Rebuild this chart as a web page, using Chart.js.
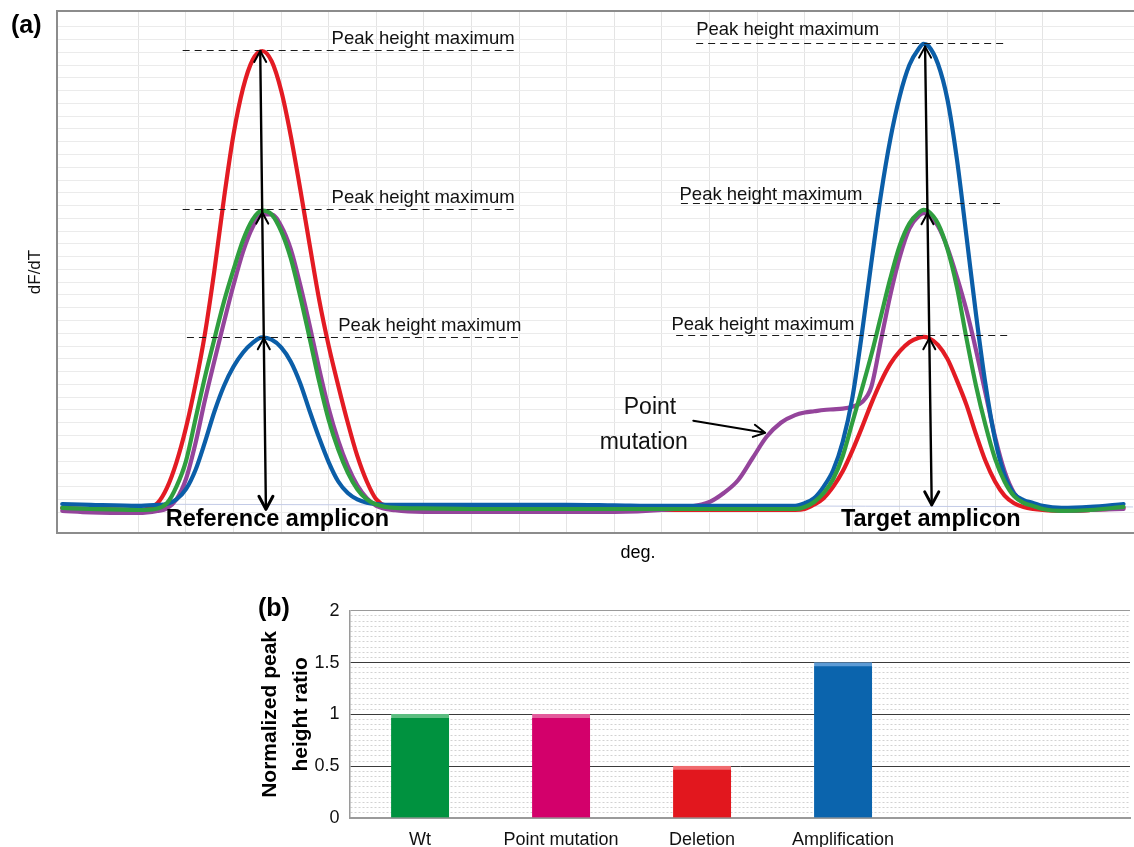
<!DOCTYPE html>
<html>
<head>
<meta charset="utf-8">
<title>Curvas de fusión y cociente de picos</title>
<script src="https://cdn.jsdelivr.net/npm/chart.js@4.4.1/dist/chart.umd.min.js"></script>
<style>
  html, body { margin: 0; padding: 0; background: #fff; }
  #lienzo { position: relative; width: 1134px; height: 847px; overflow: hidden; }
  #curvas { position: absolute; left: 0; top: 0; }
  #barras { position: absolute; left: 0; top: 590px; }
</style>
</head>
<body>
<div id="lienzo">
  <canvas id="curvas" width="1134" height="575"></canvas>
  <canvas id="barras" width="1134" height="257"></canvas>
</div>
<script>
// ──────────────────────────────────────────────
//  Datos (a): curvas dF/dT frente a temperatura
// ──────────────────────────────────────────────

const temperaturas = [
  69.4, 70.0, 71.0, 71.4, 71.6, 71.8, 72.0, 72.2, 72.4, 72.6,
  72.8, 73.0, 73.2, 73.4, 73.6, 73.8, 74.0, 74.2, 74.4, 74.6,
  74.8, 75.0, 75.2, 75.4, 75.6, 75.8, 76.0, 76.4, 77.0, 78.0,
  79.0, 80.0, 81.0, 82.0, 82.5, 83.0, 83.3, 83.6, 83.9, 84.2,
  84.5, 84.8, 85.0, 85.2, 85.4, 85.6, 85.8, 86.0, 86.2, 86.4,
  86.6, 86.8, 87.0, 87.2, 87.4, 87.5, 87.6, 87.8, 88.0, 88.2,
  88.4, 88.6, 88.8, 89.0, 89.2, 89.4, 89.6, 89.8, 90.0, 90.4,
  91.0, 91.7,
];

// Wt (verde)
const curvaWt = [
  1.33, 1.25, 1.17, 1.29, 1.7, 3.0, 5.0, 8.3, 11.6, 14.6,
  17.5, 20.0, 22.3, 23.9, 24.6, 24.3, 23.0, 20.9, 17.9, 14.6,
  11.2, 8.2, 5.9, 4.1, 2.8, 2.0, 1.6, 1.33, 1.29, 1.25,
  1.25, 1.25, 1.25, 1.25, 1.25, 1.25, 1.25, 1.25, 1.25, 1.25,
  1.25, 1.25, 1.41, 1.8, 2.5, 3.6, 5.4, 8.0, 10.6, 13.3,
  16.3, 19.3, 21.9, 23.6, 24.45, 24.66, 24.55, 23.6, 21.6, 18.6,
  14.6, 10.9, 7.8, 5.2, 3.4, 2.25, 1.72, 1.49, 1.25, 1.10,
  1.17, 1.41,
];

// Amplificación (azul)
const curvaAmplificacion = [
  1.64, 1.57, 1.49, 1.57, 1.64, 2.0, 2.8, 4.3, 6.5, 8.9,
  10.9, 12.4, 13.5, 14.25, 14.68, 14.5, 13.9, 12.8, 11.1, 8.9,
  6.8, 4.9, 3.4, 2.5, 2.0, 1.75, 1.64, 1.57, 1.57, 1.57,
  1.57, 1.57, 1.53, 1.49, 1.49, 1.49, 1.49, 1.49, 1.49, 1.49,
  1.49, 1.5, 1.7, 2.1, 3.0, 4.3, 6.5, 9.9, 14.9, 20.5,
  25.8, 30.2, 33.6, 36.0, 37.3, 37.65, 37.49, 36.1, 33.3, 28.6,
  22.6, 16.5, 11.0, 6.7, 3.9, 2.45, 1.95, 1.72, 1.49, 1.33,
  1.41, 1.64,
];

// Mutación puntual (morado)
const curvaMutacion = [
  1.10, 0.98, 0.94, 1.10, 1.3, 2.0, 3.6, 6.4, 9.8, 12.9,
  15.9, 18.8, 21.4, 23.3, 24.3, 24.3, 23.4, 21.6, 18.8, 15.6,
  12.2, 9.1, 6.6, 4.6, 3.1, 2.1, 1.5, 1.15, 1.02, 1.02,
  1.02, 1.02, 1.02, 1.17, 1.38, 1.8, 2.5, 3.5, 5.2, 6.9,
  8.0, 8.6, 8.8, 8.9, 9.0, 9.05, 9.1, 9.25, 9.6, 10.8,
  14.4, 18.0, 21.0, 23.2, 24.2, 24.4, 24.3, 23.4, 21.7, 19.4,
  16.8, 13.7, 10.3, 6.9, 4.2, 2.5, 1.8, 1.5, 1.4, 1.10,
  1.17, 1.25,
];

// Deleción (rojo)
const curvaDelecion = [
  1.33, 1.25, 1.17, 1.7, 2.9, 4.9, 7.6, 11.0, 15.0, 20.0,
  25.6, 30.6, 34.2, 36.4, 37.1, 36.3, 34.0, 30.5, 26.3, 21.9,
  17.6, 14.0, 10.9, 8.0, 5.4, 3.4, 2.0, 1.33, 1.25, 1.17,
  1.17, 1.17, 1.17, 1.17, 1.17, 1.17, 1.17, 1.17, 1.17, 1.17,
  1.17, 1.17, 1.25, 1.6, 2.1, 3.0, 4.2, 5.8, 7.6, 9.5,
  11.2, 12.6, 13.6, 14.3, 14.65, 14.72, 14.65, 14.1, 13.0, 11.3,
  9.4, 7.1, 5.0, 3.4, 2.3, 1.7, 1.4, 1.25, 1.17, 1.10,
  1.17, 1.33,
];

// línea base tenue
const lineaBaseT = [69.4, 91.9];
const lineaBaseV = [1.64, 1.41];

// ──────────────────────────────────────────────
//  Datos (b): cociente normalizado de altura de pico
// ──────────────────────────────────────────────

const categorias = ['Wt', 'Point mutation', 'Deletion', 'Amplification'];
const cocientes = [1, 1, 0.5, 1.5];
const marcasCociente = [0, 0.5, 1, 1.5, 2];

// ──────────────────────────────────────────────
//  Anotaciones (posiciones en unidades de los ejes)
// ──────────────────────────────────────────────

const GUIAS = [
  { v: 37.18, desde: 71.93, hasta: 78.93, texto: 75.06, alzado: 6.7 },
  { v: 24.71, desde: 71.93, hasta: 78.93, texto: 75.06, alzado: 7 },
  { v: 14.74, desde: 72.02, hasta: 79.05, texto: 75.20, alzado: 6.7 },
  { v: 37.71, desde: 82.72, hasta: 89.26, texto: 82.72, alzado: 8.3 },
  { v: 25.18, desde: 82.40, hasta: 89.17, texto: 82.37, alzado: 4 },
  { v: 14.87, desde: 82.30, hasta: 89.31, texto: 82.20, alzado: 5.7 },
];

const FLECHAS = [
  { tSup: 73.56, tInf: 73.68, vInf: 1.23, puntas: [37.1, 24.45, 14.61] },
  { tSup: 87.53, tInf: 87.67, vInf: 1.57, puntas: [37.44, 24.4, 14.61] },
];

const FUENTE = '"Liberation Sans", Arial, Helvetica, sans-serif';
Chart.defaults.font.family = FUENTE;
Chart.defaults.color = '#111';
Chart.defaults.animation = false;

// ──────────────────────────────────────────────
//  Helpers
// ──────────────────────────────────────────────

function aPuntos(serie) {
  return temperaturas.map((t, i) => ({ x: t, y: serie[i] }));
}

function esMayor(v) {
  return Math.abs(v * 2 - Math.round(v * 2)) < 1e-6;
}

function curva(etiqueta, serie, color) {
  return {
    label: etiqueta,
    data: aPuntos(serie),
    borderColor: color,
    borderWidth: 4.2,
    pointRadius: 0,
    fill: false,
    cubicInterpolationMode: 'monotone',
    borderCapStyle: 'round',
    borderJoinStyle: 'round',
  };
}

function texto(ctx, cadena, x, y, fuente, align = 'center', base = 'middle') {
  ctx.font = fuente;
  ctx.textAlign = align;
  ctx.textBaseline = base;
  ctx.fillText(cadena, x, y);
}

// ──────────────────────────────────────────────
//  Plugin: anotaciones del panel (a)
// ──────────────────────────────────────────────

const anotacionesCurvas = {
  id: 'anotacionesCurvas',
  afterDatasetsDraw(chart) {
    const { ctx, chartArea: area, scales: { x, y } } = chart;
    ctx.save();

    /* ── marco superior ── */
    ctx.strokeStyle = '#8c8c8c';
    ctx.lineWidth = 2;
    ctx.beginPath();
    ctx.moveTo(area.left - 1, area.top);
    ctx.lineTo(area.right, area.top);
    ctx.stroke();

    /* ── guías "Peak height maximum" ── */
    ctx.fillStyle = '#111';
    GUIAS.forEach(g => {
      const yy = Math.round(y.getPixelForValue(g.v)) + 0.5;
      ctx.strokeStyle = '#1a1a1a';
      ctx.lineWidth = 1.2;
      ctx.setLineDash([7, 5]);
      ctx.beginPath();
      ctx.moveTo(x.getPixelForValue(g.desde), yy);
      ctx.lineTo(x.getPixelForValue(g.hasta), yy);
      ctx.stroke();
      ctx.setLineDash([]);
      texto(ctx, 'Peak height maximum', x.getPixelForValue(g.texto), yy - g.alzado,
        `18.5px ${FUENTE}`, 'left', 'alphabetic');
    });

    /* ── flechas verticales ── */
    ctx.strokeStyle = '#000';
    ctx.lineCap = 'round';
    ctx.lineJoin = 'round';
    FLECHAS.forEach(f => {
      const cima = Math.max(...f.puntas);
      const x0 = x.getPixelForValue(f.tSup), y0 = y.getPixelForValue(cima);
      const x1 = x.getPixelForValue(f.tInf), y1 = y.getPixelForValue(f.vInf);
      ctx.lineWidth = 2.4;
      ctx.beginPath();
      ctx.moveTo(x0, y0);
      ctx.lineTo(x1, y1);
      ctx.stroke();

      ctx.lineWidth = 2;
      f.puntas.forEach(v => {
        const py = y.getPixelForValue(v);
        const px = x0 + (x1 - x0) * (py - y0) / (y1 - y0);
        ctx.beginPath();
        ctx.moveTo(px - 6, py + 11);
        ctx.lineTo(px, py);
        ctx.lineTo(px + 6, py + 11);
        ctx.stroke();
      });

      ctx.lineWidth = 3;
      ctx.beginPath();
      ctx.moveTo(x1 - 7, y1 - 13);
      ctx.lineTo(x1, y1);
      ctx.lineTo(x1 + 7, y1 - 13);
      ctx.stroke();
    });

    /* ── flecha "Point mutation" ── */
    const ax0 = x.getPixelForValue(82.66), ay0 = y.getPixelForValue(8.16);
    const ax1 = x.getPixelForValue(84.17), ay1 = y.getPixelForValue(7.22);
    const ang = Math.atan2(ay1 - ay0, ax1 - ax0);
    ctx.lineWidth = 2;
    ctx.beginPath();
    ctx.moveTo(ax0, ay0);
    ctx.lineTo(ax1, ay1);
    ctx.moveTo(ax1 + 13 * Math.cos(ang + 2.65), ay1 + 13 * Math.sin(ang + 2.65));
    ctx.lineTo(ax1, ay1);
    ctx.lineTo(ax1 + 13 * Math.cos(ang - 2.65), ay1 + 13 * Math.sin(ang - 2.65));
    ctx.stroke();

    /* ── textos ── */
    ctx.fillStyle = '#111';
    texto(ctx, 'Point', x.getPixelForValue(81.75), y.getPixelForValue(9.16), `23px ${FUENTE}`);
    texto(ctx, 'mutation', x.getPixelForValue(81.62), y.getPixelForValue(6.42), `23px ${FUENTE}`);
    ctx.fillStyle = '#000';
    texto(ctx, 'Reference amplicon', x.getPixelForValue(73.92), y.getPixelForValue(0.39), `bold 23.5px ${FUENTE}`);
    texto(ctx, 'Target amplicon', x.getPixelForValue(87.65), y.getPixelForValue(0.39), `bold 23.5px ${FUENTE}`);
    texto(ctx, 'deg.', x.getPixelForValue(81.5), area.bottom + 20, `18px ${FUENTE}`);
    texto(ctx, '(a)', 11, 26, `bold 25px ${FUENTE}`, 'left');

    ctx.restore();
  },
};

// ──────────────────────────────────────────────
//  1. Panel (a): curvas de fusión
// ──────────────────────────────────────────────

new Chart(document.getElementById('curvas'), {
  type: 'line',
  data: {
    datasets: [
      curva('Wt', curvaWt, '#2f9e3f'),
      curva('Amplification', curvaAmplificacion, '#0b5ea8'),
      curva('Point mutation', curvaMutacion, '#94449b'),
      curva('Deletion', curvaDelecion, '#e31b23'),
      {
        label: 'base',
        data: lineaBaseT.map((t, i) => ({ x: t, y: lineaBaseV[i] })),
        borderColor: '#c3cbe6',
        borderWidth: 1,
        pointRadius: 0,
      },
    ],
  },
  options: {
    responsive: false,
    devicePixelRatio: 1,
    layout: { padding: { top: 11, right: 0, bottom: 0, left: 0 } },
    plugins: { legend: { display: false }, tooltip: { enabled: false } },
    scales: {
      x: {
        type: 'linear',
        min: 69.29,
        max: 91.92,
        ticks: { stepSize: 1, display: false },
        grid: { color: '#e4e4e4', drawTicks: false },
        border: { color: '#8c8c8c', width: 2 },
        afterFit: s => { s.height = 42; },
      },
      y: {
        min: -0.63,
        max: 40.23,
        ticks: { stepSize: 1, display: false },
        grid: { color: '#ebebeb', drawTicks: false },
        border: { color: '#8c8c8c', width: 2 },
        title: {
          display: true,
          text: 'dF/dT',
          font: { size: 17 },
          color: '#111',
          padding: { top: 24.8, bottom: 0 },
        },
        afterFit: s => { s.width = 57; },
      },
    },
  },
  plugins: [anotacionesCurvas],
});

// ──────────────────────────────────────────────
//  2. Panel (b): barras
// ──────────────────────────────────────────────

const etiquetaB = {
  id: 'etiquetaB',
  afterDraw(chart) {
    const { ctx } = chart;
    ctx.save();
    ctx.fillStyle = '#000';
    texto(ctx, '(b)', 258, 19, `bold 25px ${FUENTE}`, 'left');
    ctx.restore();
  },
};

new Chart(document.getElementById('barras'), {
  type: 'bar',
  data: {
    datasets: [{
      label: 'Normalized peak height ratio',
      data: categorias.map((c, i) => ({ x: i, y: cocientes[i] })),
      backgroundColor: ['#00923f', '#d3006b', '#e2171e', '#0b64ad'],
      borderColor: ['#5cbd80', '#e35b9c', '#f06a6e', '#5d9bd5'],
      borderWidth: { top: 4, left: 0, right: 0, bottom: 0 },
      borderSkipped: false,
      barThickness: 58,
    }],
  },
  options: {
    responsive: false,
    devicePixelRatio: 1,
    layout: { padding: { top: 20, right: 4, bottom: 0, left: 0 } },
    plugins: { legend: { display: false }, tooltip: { enabled: false } },
    scales: {
      x: {
        type: 'linear',
        min: -0.5,
        max: 5.035,
        offset: false,
        grid: { display: false, offset: false, drawTicks: false },
        border: { display: true, color: '#9a9a9a', width: 2 },
        ticks: {
          autoSkip: false,
          maxRotation: 0,
          padding: 11,
          font: { size: 18 },
          color: '#111',
          callback: v => categorias[v] ?? '',
        },
        afterBuildTicks: s => { s.ticks = categorias.map((c, i) => ({ value: i })); },
        afterFit: s => { s.height = 29; },
      },
      y: {
        min: 0,
        max: 2,
        ticks: {
          stepSize: 0.05,
          autoSkip: false,
          padding: 10,
          font: { size: 18 },
          color: '#111',
          callback: v => (esMayor(v) && marcasCociente.some(m => Math.abs(m - v) < 1e-6)) ? String(+v.toFixed(1)) : '',
        },
        grid: {
          drawTicks: false,
          color: c => {
            const v = c.tick ? c.tick.value : 0;
            if (Math.abs(v) < 1e-6 || Math.abs(v - 2) < 1e-6) return '#9a9a9a';
            return esMayor(v) ? '#3a3a3a' : '#d2d2d2';
          },
          lineWidth: 1,
        },
        border: {
          display: true,
          color: '#9a9a9a',
          width: 1.5,
          dash: c => (c.tick && !esMayor(c.tick.value)) ? [2, 2] : [],
        },
        title: {
          display: true,
          text: ['Normalized peak', 'height ratio'],
          font: { size: 21, weight: 'bold', lineHeight: 1.48 },
          color: '#000',
          padding: { top: 254.5, bottom: 0 },
        },
        afterFit: s => { s.width = 349.6; },
      },
    },
  },
  plugins: [etiquetaB],
});
</script>
</body>
</html>
